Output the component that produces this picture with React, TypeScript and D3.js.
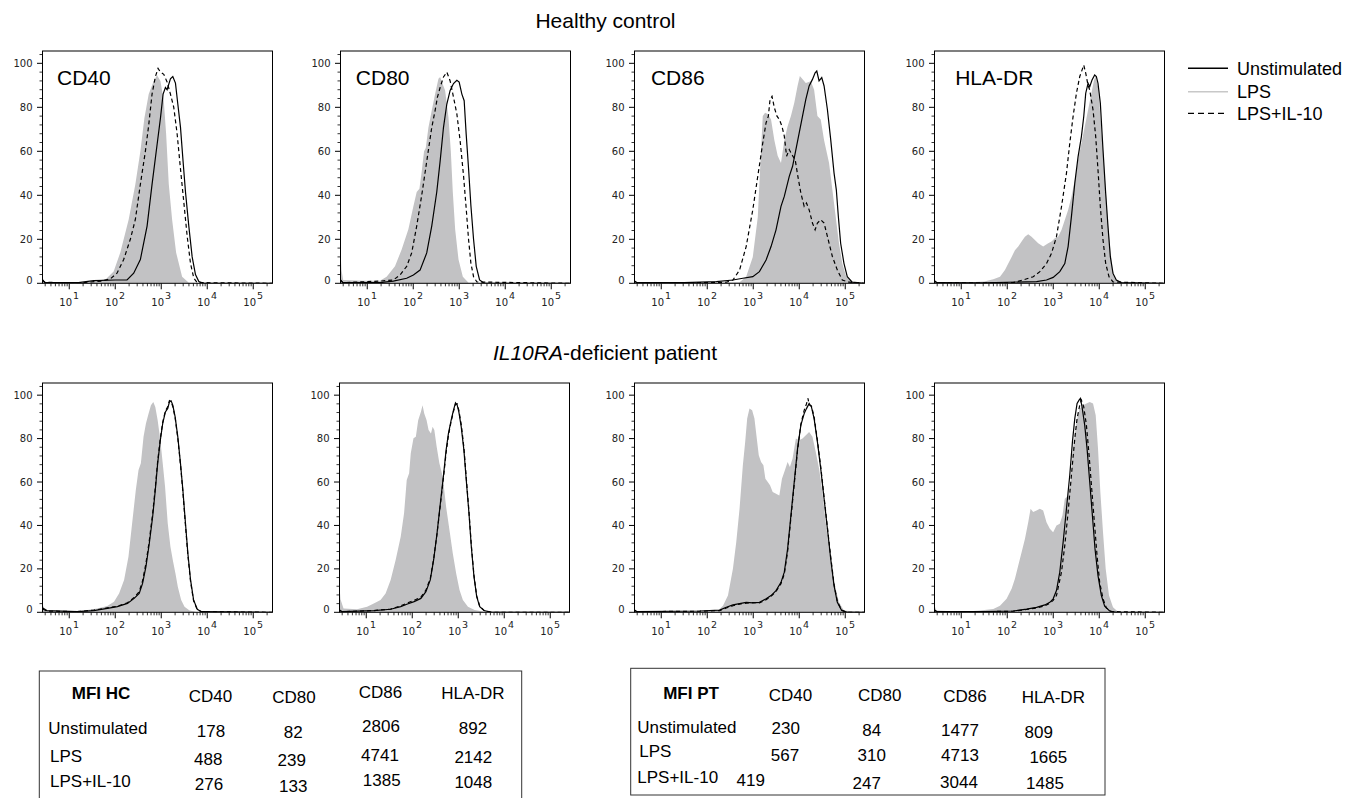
import React from 'react';
import * as d3 from 'd3';

type Pt = [number, number]; // [log10(fluorescence intensity), % of max]

// ---------------- DATA ----------------
const markers = ['CD40', 'CD80', 'CD86', 'HLA-DR'];
const seriesNames = ['Unstimulated', 'LPS', 'LPS+IL-10'];
const yTicks = [0, 20, 40, 60, 80, 100];
const xDecades = [1, 2, 3, 4, 5];

// Healthy control
const hcCD40Unstim: Pt[] = [[0.42,1.5],[0.47,0.4],[1.2,0.3],[1.53,1.2],[2.0,1.5],[2.256,1.5],[2.401,4.6],[2.546,10.8],[2.692,26],[2.8,45],[2.909,63],[2.982,75],[3.04,86],[3.091,89],[3.127,88],[3.2,93],[3.251,94],[3.309,91],[3.36,81.5],[3.418,71],[3.476,55],[3.527,41.5],[3.599,26],[3.672,12],[3.744,4],[3.817,0.8],[3.926,0]];
const hcCD40LPS: Pt[] = [[0.42,2.5],[0.47,0.5],[1.2,0.3],[1.53,0.8],[1.8,2],[1.965,5.4],[2.11,14],[2.292,29],[2.437,45],[2.546,60],[2.633,75],[2.728,86],[2.837,92],[2.909,94.6],[2.982,92],[3.055,83],[3.106,68],[3.164,45],[3.236,29],[3.323,14],[3.454,3],[3.599,0.3]];
const hcCD40IL10: Pt[] = [[0.42,1.5],[0.47,0.4],[1.3,0.3],[1.7,1],[1.893,2],[2.038,4.6],[2.183,10.8],[2.328,20],[2.437,29],[2.546,45],[2.655,60],[2.728,72],[2.8,86],[2.873,94],[2.931,97.7],[2.982,96],[3.055,95],[3.127,91.5],[3.2,86],[3.272,80],[3.345,68],[3.418,52],[3.49,37],[3.563,21.5],[3.636,9],[3.708,2.3],[3.781,0.3]];

const hcCD80Unstim: Pt[] = [[0.42,1.5],[0.47,0.3],[1.276,0.3],[1.567,1],[1.857,2.3],[2.003,3.8],[2.148,6],[2.293,13.8],[2.402,26],[2.511,41.5],[2.584,55.4],[2.657,70.8],[2.73,81.5],[2.802,87.7],[2.875,90.8],[2.948,92.3],[2.998,91.5],[3.057,86],[3.107,83],[3.151,67.7],[3.202,52.3],[3.253,35.4],[3.311,20],[3.369,7.7],[3.442,1.5],[3.543,0]];
const hcCD80LPS: Pt[] = [[0.42,14],[0.44,6],[0.477,1.5],[0.913,1.2],[1.276,1.2],[1.421,3],[1.603,7.7],[1.748,15.4],[1.894,24.6],[2.003,35],[2.075,41.5],[2.134,43],[2.184,50.8],[2.235,60],[2.272,61.5],[2.33,70.8],[2.402,78.5],[2.475,86],[2.548,93],[2.584,93.8],[2.635,90.8],[2.693,87.7],[2.766,75.4],[2.817,60],[2.86,41.5],[2.911,24.6],[2.984,10.8],[3.078,3],[3.202,0.3]];
const hcCD80IL10: Pt[] = [[0.42,1.5],[0.47,0.3],[1.276,1],[1.567,1.5],[1.712,3.8],[1.857,7.7],[1.966,13.8],[2.075,26],[2.184,40],[2.293,55.4],[2.402,70.8],[2.475,78.5],[2.526,84.6],[2.584,89],[2.657,93.8],[2.73,96],[2.802,92],[2.875,84.6],[2.948,77],[3.02,64.6],[3.093,49],[3.151,34],[3.202,20],[3.253,9.2],[3.311,3],[3.384,0.6]];

const hcCD86Unstim: Pt[] = [[0.42,1],[0.47,0.3],[1.5,0.3],[2.198,0.8],[2.558,1.5],[2.774,2.3],[2.99,3],[3.134,5.3],[3.279,10.6],[3.387,16.7],[3.495,24.3],[3.603,35],[3.675,39.5],[3.783,48.6],[3.855,53.2],[3.927,60.8],[3.999,68.4],[4.071,76],[4.143,83.6],[4.215,89.7],[4.287,92.7],[4.345,95.7],[4.381,96.5],[4.431,92],[4.489,93.5],[4.54,89.7],[4.612,79],[4.684,65.3],[4.756,50.2],[4.806,42.5],[4.85,30.4],[4.9,18.2],[4.972,9.1],[5.044,3],[5.152,0.5]];
const hcCD86LPS: Pt[] = [[0.42,1],[0.47,0.3],[2.0,0.2],[2.702,0.5],[2.846,3],[2.99,12],[3.098,30],[3.17,61],[3.207,76],[3.257,77.5],[3.315,77],[3.387,74.5],[3.459,65],[3.531,58],[3.603,54.7],[3.675,65],[3.747,71.4],[3.819,76],[3.891,82],[3.963,89.7],[4.013,94.2],[4.143,91],[4.251,91.8],[4.323,88],[4.395,76],[4.467,74.5],[4.54,65],[4.648,54.7],[4.72,42.5],[4.792,30.4],[4.864,18.2],[4.936,9],[5.022,3],[5.152,0.5]];
const hcCD86IL10: Pt[] = [[0.42,1],[0.47,0.3],[2.0,0.3],[2.414,0.5],[2.558,1.5],[2.702,6],[2.846,16.7],[2.99,33.4],[3.098,48.6],[3.207,63.8],[3.279,73],[3.329,76],[3.365,83.6],[3.408,85],[3.459,79.8],[3.516,76],[3.567,74.5],[3.624,71.4],[3.675,66.9],[3.725,57.8],[3.783,60.8],[3.841,58.5],[3.913,56],[3.97,48.6],[4.035,41],[4.107,35],[4.157,36.5],[4.215,33.4],[4.287,27.4],[4.345,24.3],[4.395,27.4],[4.467,28.9],[4.54,27.4],[4.612,21.3],[4.72,12.2],[4.828,6],[4.936,1.5],[5.08,0.5]];

const hcHLAUnstim: Pt[] = [[0.42,1],[0.47,0.3],[1.5,0.2],[2.637,0.8],[2.853,1.5],[2.998,2.7],[3.142,5.3],[3.251,9],[3.323,16.7],[3.395,30.3],[3.468,45.5],[3.54,57.6],[3.612,66.7],[3.663,75.8],[3.706,86.4],[3.757,90.9],[3.793,89.4],[3.843,92.4],[3.901,94.7],[3.937,94],[3.973,90.9],[4.024,81.8],[4.082,60.6],[4.14,40.9],[4.19,25.8],[4.241,12.1],[4.299,4.5],[4.371,1.5],[4.479,0.3]];
const hcHLALPS: Pt[] = [[0.42,2],[0.47,0.5],[1.2,0.5],[1.5,0.8],[1.697,1.8],[1.842,3],[1.95,6],[2.022,9],[2.095,12],[2.167,15],[2.239,16.7],[2.312,19],[2.384,21.2],[2.456,22.3],[2.528,21.2],[2.601,19.7],[2.673,18.2],[2.781,16.7],[2.89,18.2],[2.962,19],[3.034,20.5],[3.106,21.2],[3.179,24.2],[3.251,28.8],[3.323,33.3],[3.395,39.4],[3.468,47],[3.54,56],[3.612,63.6],[3.684,71.2],[3.757,78.8],[3.829,86.4],[3.887,92.4],[3.923,94],[3.973,89.4],[4.024,75.8],[4.082,60.6],[4.14,42.4],[4.19,27.3],[4.241,15.2],[4.291,6],[4.364,1.5],[4.472,0.3]];
const hcHLAIL10: Pt[] = [[0.42,1],[0.47,0.3],[1.5,0.2],[2.131,0.3],[2.348,1.5],[2.564,3],[2.709,5.3],[2.853,9],[2.962,13.6],[3.07,21.2],[3.179,34.8],[3.287,50],[3.359,63.6],[3.431,75.8],[3.504,86.4],[3.576,94],[3.627,97],[3.663,99.2],[3.706,95.5],[3.757,90],[3.793,87.9],[3.865,78.8],[3.923,66.7],[3.973,51.5],[4.024,34.8],[4.082,19.7],[4.14,9],[4.212,3],[4.299,0.6]];

// IL10RA-deficient patient
const ptCD40Unstim: Pt[] = [[0.42,2],[0.513,0.8],[1.17,0.3],[1.535,0.8],[1.827,1.8],[2.046,2.6],[2.265,4.1],[2.411,6.4],[2.521,8.7],[2.594,13.3],[2.667,21],[2.74,31.7],[2.813,44],[2.871,56.3],[2.922,68.6],[2.98,79.3],[3.032,87],[3.09,92.3],[3.141,93.9],[3.178,96.9],[3.214,97.4],[3.251,95.4],[3.302,90],[3.36,80.8],[3.418,68.6],[3.47,56.3],[3.521,42.5],[3.579,27.1],[3.637,14.9],[3.703,5.7],[3.783,1.4],[3.871,0.3]];
const ptCD40LPS: Pt[] = [[0.42,4],[0.46,1],[0.8,0.3],[1.316,0.8],[1.608,1.8],[1.827,2.9],[1.973,4.9],[2.083,8.7],[2.192,14.9],[2.287,25.6],[2.375,42.5],[2.447,56.3],[2.506,65.5],[2.557,68.6],[2.615,80.8],[2.667,87],[2.725,91.6],[2.776,95.4],[2.827,96.9],[2.871,94.6],[2.922,88.5],[2.98,79.3],[3.032,68.6],[3.083,57.8],[3.141,41],[3.2,30.2],[3.251,24.1],[3.309,17.9],[3.36,11.8],[3.433,5.7],[3.506,2.6],[3.616,0.8],[3.8,0]];
const ptCD40IL10: Pt[] = [[0.42,1.5],[0.513,0.6],[1.17,0.3],[1.535,1],[1.827,2],[2.046,2.8],[2.265,4.4],[2.411,6.8],[2.521,9.5],[2.594,14.5],[2.667,22.5],[2.74,33],[2.813,45.5],[2.871,57.5],[2.922,69.5],[2.98,80],[3.032,87.5],[3.09,92.8],[3.141,94.6],[3.178,97.5],[3.214,97],[3.251,94.8],[3.302,89.6],[3.36,80.2],[3.418,68],[3.47,55.5],[3.521,41.5],[3.579,26.3],[3.637,14.2],[3.703,5.3],[3.783,1.2],[3.871,0.3]];

const ptCD80Unstim: Pt[] = [[0.42,1],[0.47,0.3],[1.164,0.8],[1.53,1.4],[1.749,2.6],[1.895,3.8],[2.041,4.9],[2.187,6.4],[2.297,9.5],[2.392,14.9],[2.465,24.1],[2.538,36.3],[2.611,50.2],[2.684,64],[2.736,74.7],[2.787,82.4],[2.846,88.5],[2.897,93.1],[2.94,96.5],[2.977,95.4],[3.013,92.3],[3.065,85.4],[3.123,74.7],[3.174,60.9],[3.233,45.6],[3.284,30.2],[3.342,16.4],[3.401,7.2],[3.467,2.6],[3.562,0.8],[3.722,0]];
const ptCD80LPS: Pt[] = [[0.4185,12],[0.44,6],[0.506,1.8],[0.799,1.4],[1.018,2.6],[1.164,4.1],[1.31,5.7],[1.42,8.7],[1.53,14.9],[1.639,24.1],[1.749,34.8],[1.822,45.6],[1.88,60.9],[1.932,64],[1.968,73.2],[2.027,80.1],[2.078,80.8],[2.129,88.5],[2.187,92.3],[2.224,95.4],[2.261,91.6],[2.312,88.5],[2.355,83.9],[2.407,82.4],[2.443,85.4],[2.48,83.9],[2.531,76.2],[2.59,68.6],[2.663,62.4],[2.736,48.6],[2.809,37.9],[2.882,27.1],[2.955,17.9],[3.028,10.3],[3.101,5.7],[3.211,2.6],[3.357,1.1],[3.576,0.3]];
const ptCD80IL10: Pt[] = [[0.42,1],[0.47,0.3],[1.164,0.8],[1.53,1.5],[1.749,3],[1.895,4.3],[2.041,5.5],[2.187,7],[2.297,10.2],[2.392,15.5],[2.465,24.5],[2.538,36],[2.611,49.5],[2.684,63],[2.736,73.5],[2.787,81.5],[2.846,88],[2.897,92.5],[2.94,95.8],[2.977,96],[3.013,93],[3.065,86.5],[3.123,75.8],[3.174,62],[3.233,46.5],[3.284,31],[3.342,17],[3.401,7.6],[3.467,2.8],[3.562,0.8],[3.722,0]];

const ptCD86Unstim: Pt[] = [[0.42,1],[0.47,0.3],[1.838,0.6],[2.27,1],[2.414,2.3],[2.558,3.4],[2.702,4],[2.846,4.6],[2.99,4.3],[3.134,4.6],[3.279,6.2],[3.387,7.7],[3.495,10],[3.603,13.8],[3.675,18.5],[3.747,29.2],[3.819,44.6],[3.891,60],[3.963,75.4],[4.035,86.2],[4.107,91.5],[4.157,93.8],[4.215,96.2],[4.265,94.6],[4.323,89.2],[4.395,78.5],[4.467,66.2],[4.54,52.3],[4.612,38.5],[4.684,24.6],[4.756,12.3],[4.828,4.6],[4.922,0.8],[5.044,0]];
const ptCD86LPS: Pt[] = [[0.42,1.2],[0.47,0.3],[1.6,0.3],[2.0,0.6],[2.234,0.8],[2.342,3],[2.45,7.7],[2.558,20],[2.63,32.3],[2.702,47.7],[2.774,67.7],[2.825,78.5],[2.868,89.2],[2.918,93.8],[2.976,93],[3.026,89.2],[3.077,80],[3.12,72.3],[3.17,69.2],[3.221,67.7],[3.264,61.5],[3.315,60],[3.365,58.5],[3.423,55.4],[3.495,54.6],[3.567,53.8],[3.624,61.5],[3.675,64.6],[3.747,69.2],[3.797,66.9],[3.855,70.8],[3.927,80],[3.999,79.2],[4.071,80],[4.143,81.5],[4.215,83],[4.287,80.8],[4.359,73.8],[4.431,66.2],[4.503,55.4],[4.575,41.5],[4.648,29.2],[4.72,18.5],[4.792,10.8],[4.864,4.6],[4.972,0.8]];
const ptCD86IL10: Pt[] = [[0.42,1],[0.47,0.3],[1.838,0.5],[2.27,0.8],[2.414,2],[2.558,3],[2.702,3.8],[2.846,4.2],[2.99,4.5],[3.134,4.3],[3.279,5.8],[3.387,7.4],[3.495,9.6],[3.603,13.2],[3.675,17.6],[3.747,28],[3.819,43.5],[3.891,59],[3.963,74.6],[4.035,86.6],[4.107,93],[4.157,96],[4.19,98.5],[4.215,95.5],[4.265,95],[4.323,90],[4.395,79.2],[4.467,67],[4.54,53],[4.612,39.2],[4.684,25.5],[4.756,13],[4.828,5],[4.922,1],[5.044,0]];

const ptHLAUnstim: Pt[] = [[0.42,1],[0.47,0.3],[1.5,0.3],[2.131,0.6],[2.42,1.5],[2.637,2.3],[2.817,3.4],[2.926,4.6],[2.998,6.2],[3.07,10],[3.142,18.5],[3.215,32.3],[3.287,47.7],[3.359,63.1],[3.417,78.5],[3.468,89.2],[3.518,96.2],[3.561,97.7],[3.59,98.5],[3.626,94.6],[3.684,86.2],[3.735,75.4],[3.793,60],[3.851,44.6],[3.908,29.2],[3.973,16.9],[4.046,7.7],[4.118,2.8],[4.226,0.6],[4.371,0]];
const ptHLALPS: Pt[] = [[0.42,3],[0.46,0.8],[1.047,0.3],[1.408,0.8],[1.697,1.5],[1.842,3],[1.986,6.2],[2.095,10.8],[2.167,15.4],[2.239,21.5],[2.312,27.7],[2.384,33.8],[2.456,41.5],[2.507,47.7],[2.564,46.2],[2.637,46.9],[2.709,47.7],[2.781,46.9],[2.853,41.5],[2.926,38.5],[2.998,36.9],[3.07,40],[3.142,40.8],[3.2,44.6],[3.251,52.3],[3.323,53.8],[3.374,60],[3.431,75.4],[3.504,87.7],[3.576,93.8],[3.648,95.4],[3.721,96.2],[3.793,96.9],[3.865,96.2],[3.923,90.8],[3.973,75.4],[4.024,55.4],[4.082,36.9],[4.14,20],[4.212,7.7],[4.299,2.3],[4.407,0.3]];
const ptHLAIL10: Pt[] = [[0.42,1],[0.47,0.3],[1.5,0.3],[2.131,0.5],[2.42,1.3],[2.637,2],[2.817,3],[2.926,4.2],[2.998,5.5],[3.07,7.7],[3.179,18.5],[3.251,30.8],[3.323,46.2],[3.395,63.1],[3.468,80],[3.518,89.2],[3.576,95.4],[3.612,97.7],[3.663,94.6],[3.721,86.2],[3.779,72.3],[3.836,56.9],[3.894,41.5],[3.952,26.2],[4.009,13.8],[4.082,6.2],[4.154,2],[4.262,0.3]];

// MFI tables
const mfiHCUnstimulated = [178, 82, 2806, 892];
const mfiHCLPS = [488, 239, 4741, 2142];
const mfiHCLPSIL10 = [276, 133, 1385, 1048];
const mfiPTUnstimulated = [230, 84, 1477, 809];
const mfiPTLPS = [567, 310, 4713, 1665];
const mfiPTLPSIL10 = [419, 247, 3044, 1485];

// ---------------- LAYOUT ----------------
const W = 1362, H = 798;
const X_MIN_LOG = 0.4185;
const X_MAX = 262144;
const Y_MAX = 105.6;
const PANEL_W = 230;
const rowLayout = [
  { top: 51, bottom: 283.3, lefts: [42.5, 340.5, 634.5, 934.5] },
  { top: 383, bottom: 612.3, lefts: [42.5, 339.5, 634.5, 934.5] },
];
const labelDx = [14.5, 15.3, 16.4, 20.7];

const panelData = [
  [
    { u: hcCD40Unstim, l: hcCD40LPS, d: hcCD40IL10 },
    { u: hcCD80Unstim, l: hcCD80LPS, d: hcCD80IL10 },
    { u: hcCD86Unstim, l: hcCD86LPS, d: hcCD86IL10 },
    { u: hcHLAUnstim, l: hcHLALPS, d: hcHLAIL10 },
  ],
  [
    { u: ptCD40Unstim, l: ptCD40LPS, d: ptCD40IL10 },
    { u: ptCD80Unstim, l: ptCD80LPS, d: ptCD80IL10 },
    { u: ptCD86Unstim, l: ptCD86LPS, d: ptCD86IL10 },
    { u: ptHLAUnstim, l: ptHLALPS, d: ptHLAIL10 },
  ],
];

const tables = [
  {
    title: 'MFI HC',
    rows: [mfiHCUnstimulated, mfiHCLPS, mfiHCLPSIL10],
    box: { x: 39.3, y: 671, w: 482.4, h: 140 },
    header: [[101, 693], [210.5, 695.7], [294, 696.7], [380.5, 692.3], [473, 693]],
    rowLabel: [[48.3, 728.3], [50, 756], [50, 781]],
    cells: [
      [[211, 731], [293.3, 732.3], [381, 725.7], [473, 728.3]],
      [[208.3, 759], [291.7, 760], [380, 755], [473.3, 756.7]],
      [[209, 784.3], [293.3, 785.7], [381.7, 780], [473.3, 781.7]],
    ],
  },
  {
    title: 'MFI PT',
    rows: [mfiPTUnstimulated, mfiPTLPS, mfiPTLPSIL10],
    box: { x: 630.7, y: 668.3, w: 474.3, h: 126.7 },
    header: [[691, 693.3], [790.5, 695], [879.7, 695], [965, 696], [1053.3, 697.3]],
    rowLabel: [[637.3, 726.7], [639.3, 750.7], [637.3, 776.7]],
    cells: [
      [[785.8, 728.3], [871.7, 730], [960, 730], [1038.7, 731.7]],
      [[785, 755], [871.7, 755], [960, 755], [1048.3, 756.7]],
      [[750.7, 780], [866.7, 782.7], [959, 781.7], [1045, 782.7]],
    ],
  },
];

const GRAY = '#c2c2c4';
const SANS = 'Liberation Sans, Arial, Helvetica, sans-serif';
const TICKFONT = 'DejaVu Sans, sans-serif';

function Histogram(props: { row: number; col: number }) {
  const { row, col } = props;
  const { top, bottom, lefts } = rowLayout[row];
  const left = lefts[col];
  const data = panelData[row][col];
  const x = d3.scaleLog().domain([10 ** X_MIN_LOG, X_MAX]).range([left, left + PANEL_W]);
  const y = d3.scaleLinear().domain([0, Y_MAX]).range([bottom, top]);
  const ext = (pts: Pt[]): Pt[] => [[X_MIN_LOG, pts[0][1]], ...pts, [Math.log10(X_MAX), 0]];
  const area = d3.area<Pt>().x(d => x(10 ** d[0])).y0(y(0)).y1(d => y(d[1]));
  const line = d3.line<Pt>().x(d => x(10 ** d[0])).y(d => y(d[1]));
  const yMinor = d3.range(4, Y_MAX, 4).filter(v => v % 20 !== 0);
  const xMinor: number[] = [];
  for (let e = 0; e <= 5; e++) {
    for (let m = 2; m <= 9; m++) {
      const v = m * 10 ** e;
      if (v > 10 ** X_MIN_LOG && v < X_MAX) xMinor.push(v);
    }
  }
  const clipId = `clip-${row}-${col}`;
  return (
    <g>
      <defs>
        <clipPath id={clipId}>
          <rect x={left} y={top} width={PANEL_W} height={bottom - top} />
        </clipPath>
      </defs>
      <g clipPath={`url(#${clipId})`}>
        <path d={area(ext(data.l)) || ''} fill={GRAY} stroke="none" />
        <path d={line(ext(data.d)) || ''} fill="none" stroke="#000" strokeWidth={1.2} strokeDasharray="4,3" />
        <path d={line(ext(data.u)) || ''} fill="none" stroke="#000" strokeWidth={1.2} />
      </g>
      <rect x={left} y={top} width={PANEL_W} height={bottom - top} fill="none" stroke="#000" strokeWidth={1} />
      {/* y axis */}
      {yTicks.map(t => (
        <g key={`yt${t}`}>
          <line x1={left - 5.5} x2={left} y1={y(t)} y2={y(t)} stroke="#000" strokeWidth={1} />
          <text x={left - 10} y={y(t) - (t === 0 ? 3 : 0)} dy="0.36em" textAnchor="end" fontFamily={TICKFONT} fontSize={10} fill="#222">{t}</text>
        </g>
      ))}
      {yMinor.map(t => (
        <line key={`ym${t}`} x1={left - 3} x2={left} y1={y(t)} y2={y(t)} stroke="#000" strokeWidth={0.8} />
      ))}
      {/* x axis */}
      {xDecades.map(e => (
        <g key={`xt${e}`}>
          <line x1={x(10 ** e)} x2={x(10 ** e)} y1={bottom} y2={bottom + 6} stroke="#000" strokeWidth={1} />
          <text x={x(10 ** e)} y={bottom + 23} textAnchor="middle" fontFamily={TICKFONT} fontSize={10} fill="#222">
            10<tspan dx={1} dy={-7} fontSize={9.5}>{e}</tspan>
          </text>
        </g>
      ))}
      {xMinor.map(v => (
        <line key={`xm${v}`} x1={x(v)} x2={x(v)} y1={bottom} y2={bottom + 3} stroke="#000" strokeWidth={0.8} />
      ))}
      {row === 0 && (
        <text x={left + labelDx[col]} y={85} fontFamily={SANS} fontSize={21} fill="#000">{markers[col]}</text>
      )}
    </g>
  );
}

function Table(props: { t: typeof tables[number] }) {
  const { t } = props;
  return (
    <g fontFamily={SANS} fontSize={17} fill="#000">
      <rect x={t.box.x} y={t.box.y} width={t.box.w} height={t.box.h} fill="none" stroke="#333" strokeWidth={1} />
      <text x={t.header[0][0]} y={t.header[0][1]} dy="0.36em" textAnchor="middle" fontWeight="bold">{t.title}</text>
      {markers.map((m, i) => (
        <text key={m} x={t.header[i + 1][0]} y={t.header[i + 1][1]} dy="0.36em" textAnchor="middle">{m}</text>
      ))}
      {seriesNames.map((s, r) => (
        <text key={s} x={t.rowLabel[r][0]} y={t.rowLabel[r][1]} dy="0.36em" textAnchor="start">{s}</text>
      ))}
      {t.rows.map((vals, r) =>
        vals.map((v, c) => (
          <text key={`${r}-${c}`} x={t.cells[r][c][0]} y={t.cells[r][c][1]} dy="0.36em" textAnchor="middle">{v}</text>
        ))
      )}
    </g>
  );
}

export default function App() {
  const legendY = [68.3, 91.7, 113.3];
  const legendStyles = [
    { stroke: '#000', dash: undefined as string | undefined, w: 1.5 },
    { stroke: '#c8c8c8', dash: undefined as string | undefined, w: 1.5 },
    { stroke: '#000', dash: '6,4', w: 1.3 },
  ];
  return (
    <svg width={W} height={H} viewBox={`0 0 ${W} ${H}`} style={{ position: 'absolute', left: 0, top: 0, background: '#fff' }}>
      <rect x={0} y={0} width={W} height={H} fill="#fff" />
      <text x={605.5} y={28} textAnchor="middle" fontFamily={SANS} fontSize={21} fill="#000">Healthy control</text>
      <text x={605} y={360} textAnchor="middle" fontFamily={SANS} fontSize={21} fill="#000">
        <tspan fontStyle="italic">IL10RA</tspan>-deficient patient
      </text>
      {[0, 1].map(r => [0, 1, 2, 3].map(c => <Histogram key={`${r}-${c}`} row={r} col={c} />))}
      {seriesNames.map((s, i) => (
        <g key={s}>
          <line x1={1188} x2={1228} y1={legendY[i]} y2={legendY[i]} stroke={legendStyles[i].stroke} strokeWidth={legendStyles[i].w} strokeDasharray={legendStyles[i].dash} />
          <text x={1237} y={legendY[i]} dy="0.36em" fontFamily={SANS} fontSize={18} fill="#000">{s}</text>
        </g>
      ))}
      {tables.map(t => <Table key={t.title} t={t} />)}
    </svg>
  );
}
